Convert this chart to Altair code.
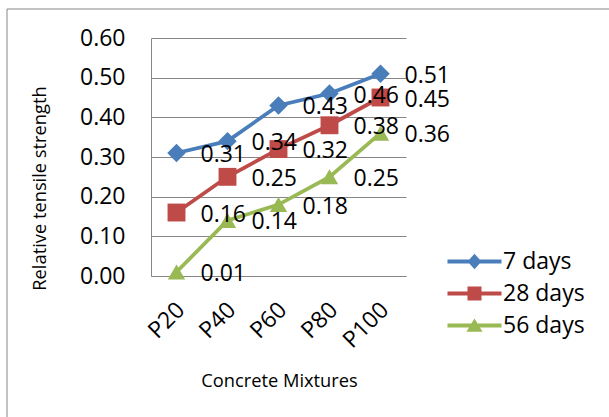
import altair as alt
import pandas as pd

# Concrete mixtures on the x axis and the relative tensile strength per curing age
mixtures = ["P20", "P40", "P60", "P80", "P100"]
series_names = ["7 days", "28 days", "56 days"]
days_7 = [0.31, 0.34, 0.43, 0.46, 0.51]
days_28 = [0.16, 0.25, 0.32, 0.38, 0.45]
days_56 = [0.01, 0.14, 0.18, 0.25, 0.36]
y_ticks = [0.0, 0.1, 0.2, 0.3, 0.4, 0.5, 0.6]

colors = ["#4A7EBB", "#BE4B48", "#98B954"]
marker_shapes = ["diamond", "square", "triangle-up"]
marker_sizes = [340, 300, 400]

# legend keys: a short line with the marker on top (unit box is [-1, 1])
bar = "M-3.86,-0.27 L3.86,-0.27 L3.86,0.27 L-3.86,0.27 Z "
legend_shapes = [
    bar + "M0,-1.1 L1,0 L0,1.1 L-1,0 Z",
    bar + "M-1,-1 L1,-1 L1,1 L-1,1 Z",
    bar + "M0,-1 L1.15,0.9 L-1.15,0.9 Z",
]

FONT = "Open Sans"
GRID = "#868686"

rows = []
for name, vals in zip(series_names, [days_7, days_28, days_56]):
    for mix, v in zip(mixtures, vals):
        rows.append({"mix": mix, "series": name, "value": v})
df = pd.DataFrame(rows)

x_enc = alt.X(
    "mix:N",
    sort=mixtures,
    scale=alt.Scale(type="point", padding=0.5),
    axis=alt.Axis(
        title="Concrete Mixtures",
        labelAngle=-45,
        labelAlign="right",
        labelBaseline="middle",
        labelPadding=30,
        labelOffset=4,
        labelFont=FONT,
        labelFontSize=23,
        labelColor="black",
        ticks=False,
        grid=False,
        domainColor=GRID,
        domainWidth=1,
        titleFont=FONT,
        titleFontSize=18.3,
        titleFontWeight="normal",
        titleColor="black",
        titleX=128,
        titleY=105,
        titleAlign="center",
        titleBaseline="middle",
    ),
)
y_enc = alt.Y(
    "value:Q",
    scale=alt.Scale(domain=[0, 0.6], nice=False, zero=True),
    axis=alt.Axis(
        title="Relative tensile strength",
        values=y_ticks,
        format=".2f",
        labelFont=FONT,
        labelFontSize=23,
        labelColor="black",
        labelPadding=26,
        ticks=False,
        grid=True,
        gridColor=GRID,
        gridWidth=1,
        domainColor=GRID,
        domainWidth=1,
        titleFont=FONT,
        titleFontSize=18.3,
        titleFontWeight="normal",
        titleColor="black",
        titleX=-111,
        titleY=150,
        titleAngle=-90,
        titleAlign="center",
        titleBaseline="middle",
    ),
)

color_scale = alt.Scale(domain=series_names, range=colors)
base = alt.Chart(df).encode(x=x_enc, y=y_enc)

lines = base.mark_line(strokeWidth=3.75).encode(
    color=alt.Color("series:N", scale=color_scale, legend=None),
    order=alt.Order("mix_order:Q"),
).transform_calculate(mix_order="indexof(" + str(mixtures) + ", datum.mix)")

points = base.mark_point(filled=True, opacity=1).encode(
    color=alt.Color("series:N", scale=color_scale, legend=None),
    shape=alt.Shape("series:N", scale=alt.Scale(domain=series_names, range=marker_shapes), legend=None),
    size=alt.Size("series:O", scale=alt.Scale(domain=series_names, range=marker_sizes), legend=None),
)

labels = base.mark_text(
    align="left", baseline="middle", dx=24, dy=2, font=FONT, fontSize=23, color="black"
).encode(text=alt.Text("value:Q", format=".2f"))

legend_props = dict(
    orient="none",
    legendX=312,
    legendY=212,
    title=None,
    labelFont=FONT,
    labelFontSize=23,
    labelColor="black",
    labelOffset=17,
    symbolSize=196,
    symbolOpacity=1,
    symbolStrokeWidth=0,
    rowPadding=8,
    padding=0,
)
legend_keys = base.mark_point(filled=True, opacity=0).encode(
    color=alt.Color("series:N", scale=color_scale, sort=series_names, legend=alt.Legend(**legend_props)),
    shape=alt.Shape(
        "series:N",
        scale=alt.Scale(domain=series_names, range=legend_shapes),
        sort=series_names,
        legend=alt.Legend(**legend_props),
    ),
)

# outer chart frame
frame = alt.Chart(pd.DataFrame({"k": [0]})).mark_rect(
    fillOpacity=0, stroke=GRID, strokeWidth=1
).encode(
    x=alt.value(-144), x2=alt.value(470), y=alt.value(-29), y2=alt.value(400)
)

chart = (
    alt.layer(frame, lines, points, labels, legend_keys)
    .resolve_scale(color="independent", shape="independent")
    .properties(
        width=255,
        height=238,
        autosize=alt.AutoSizeParams(type="none"),
        padding={"left": 151, "top": 38, "right": 203, "bottom": 141},
        background="white",
    )
    .configure_view(strokeWidth=0)
)

chart.save("out.html", embed_options={"renderer": "svg", "actions": False})
